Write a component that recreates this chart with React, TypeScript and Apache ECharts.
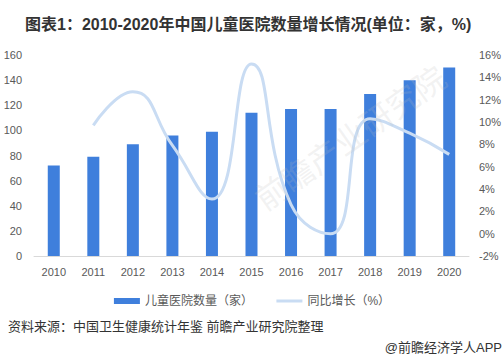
import React, { useEffect, useRef } from "react";
import * as echarts from "echarts";

const years = ["2010", "2011", "2012", "2013", "2014", "2015", "2016", "2017", "2018", "2019", "2020"];
const hospitals = [72, 79, 89, 96, 99, 114, 117, 117, 129, 140, 150];
const growth: (number | null)[] = [null, 9.7, 12.7, 7.9, 3.1, 15.2, 2.6, 0.0, 10.3, 9.0, 7.1];
const barName = "儿童医院数量（家）";
const lineName = "同比增长（%）";
const titleText = "图表1：2010-2020年中国儿童医院数量增长情况(单位：家，%)";
const sourceText = "资料来源：中国卫生健康统计年鉴 前瞻产业研究院整理";
const creditText = "@前瞻经济学人APP";

const FONT = "'Liberation Sans', 'Noto Sans CJK SC', sans-serif";

export default function App() {
  const ref = useRef<HTMLDivElement>(null);
  useEffect(() => {
    if (!ref.current) return;
    const chart = echarts.init(ref.current, undefined, { renderer: "svg" });
    chart.setOption({
      animation: false,
      backgroundColor: "#ffffff",
      textStyle: { fontFamily: FONT },
      title: {
        text: titleText,
        left: 20,
        top: 11,
        textStyle: { fontSize: 16, fontWeight: "bold", color: "#333333", fontFamily: FONT },
      },
      grid: { left: 34, right: 35, top: 55, bottom: 105, containLabel: false },
      legend: {
        top: 290,
        left: "center",
        itemWidth: 26,
        itemHeight: 6,
        itemGap: 22,
        textStyle: { fontSize: 12, color: "#595959", fontFamily: FONT },
        data: [
          { name: barName, icon: "rect" },
          { name: lineName, itemStyle: { opacity: 0 }, lineStyle: { width: 3, color: "#c9dcf3" } },
        ],
      },
      graphic: [
        {
          type: "text",
          left: 8,
          top: 320,
          style: { text: sourceText, fontSize: 13, fill: "#333333", fontFamily: FONT },
        },
        {
          type: "text",
          right: 2,
          top: 341,
          style: { text: creditText, fontSize: 13, fill: "#333333", fontFamily: FONT },
        },
        {
          type: "text",
          x: 250,
          y: 190,
          rotation: (35 * Math.PI) / 180,
          z: 100,
          style: {
            text: "前瞻产业研究院",
            fontSize: 32,
            fill: "rgba(190,190,190,0.2)",
            fontFamily: FONT,
          },
        },
      ],
      xAxis: {
        type: "category",
        data: years,
        axisLine: { show: true, lineStyle: { color: "#d9d9d9" } },
        axisTick: { show: false },
        axisLabel: { fontSize: 11, color: "#595959", margin: 10 },
      },
      yAxis: [
        {
          type: "value",
          min: 0,
          max: 160,
          interval: 20,
          splitLine: { show: false },
          axisLine: { show: false },
          axisTick: { show: false },
          axisLabel: { fontSize: 11, color: "#595959", margin: 12 },
        },
        {
          type: "value",
          min: -2,
          max: 16,
          interval: 2,
          splitLine: { show: false },
          axisLine: { show: false },
          axisTick: { show: false },
          axisLabel: { fontSize: 11, color: "#595959", margin: 10, formatter: "{value}%" },
        },
      ],
      series: [
        {
          name: barName,
          type: "bar",
          data: hospitals,
          barWidth: 12,
          itemStyle: { color: "#3f7fdc" },
        },
        {
          name: lineName,
          type: "line",
          yAxisIndex: 1,
          data: growth,
          smooth: 0.5,
          symbol: "none",
          lineStyle: { color: "#c9dcf3", width: 3 },
          itemStyle: { color: "#c9dcf3" },
        },
      ],
    });
    return () => chart.dispose();
  }, []);
  return <div ref={ref} style={{ width: 504, height: 361, position: "absolute", left: 0, top: 0 }} />;
}
